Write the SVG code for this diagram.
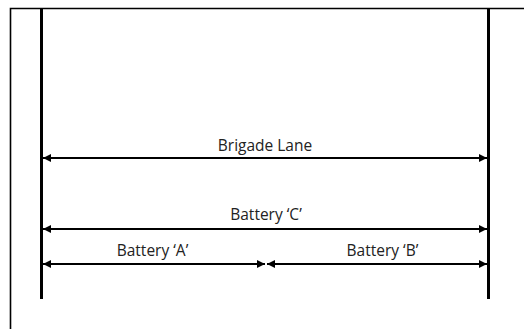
<svg xmlns="http://www.w3.org/2000/svg" width="524" height="329" viewBox="0 0 524 329">
<style>
.frame{stroke:#000;stroke-width:1.6;fill:none}
.post{stroke:#000;stroke-width:3;fill:none}
.dim{stroke:#000;stroke-width:2;fill:none;marker-start:url(#ah);marker-end:url(#ah)}
text{font-family:"Open Sans","Liberation Sans",sans-serif;font-size:15.5px;fill:#222;text-anchor:middle}
</style>
<defs>
<marker id="ah" viewBox="0 0 10 10" refX="10" refY="5" markerWidth="10" markerHeight="8" markerUnits="userSpaceOnUse" orient="auto-start-reverse">
<path d="M0,0 L10,5 L0,10 Z" fill="#000"/>
</marker>
</defs>
<rect width="524" height="329" fill="#fff"/>
<g id="frame">
<path class="frame" d="M10.5,329 V8.5 H524"/>
</g>
<g id="posts">
<line class="post" x1="41.5" y1="8" x2="41.5" y2="299"/>
<line class="post" x1="488.5" y1="8" x2="488.5" y2="299"/>
</g>
<g id="connectors">
<line class="dim" x1="43" y1="158" x2="487" y2="158"/>
<line class="dim" x1="43" y1="229" x2="487" y2="229"/>
<line class="dim" x1="43" y1="264" x2="265" y2="264"/>
<line class="dim" x1="267" y1="264" x2="487" y2="264"/>
</g>
<g id="brigade-lane"><text x="265" y="151">Brigade Lane</text></g>
<g id="battery-c"><text x="266" y="220">Battery ‘C’</text></g>
<g id="battery-a"><text x="152.5" y="256">Battery ‘A’</text></g>
<g id="battery-b"><text x="382.5" y="256">Battery ‘B’</text></g>
</svg>
